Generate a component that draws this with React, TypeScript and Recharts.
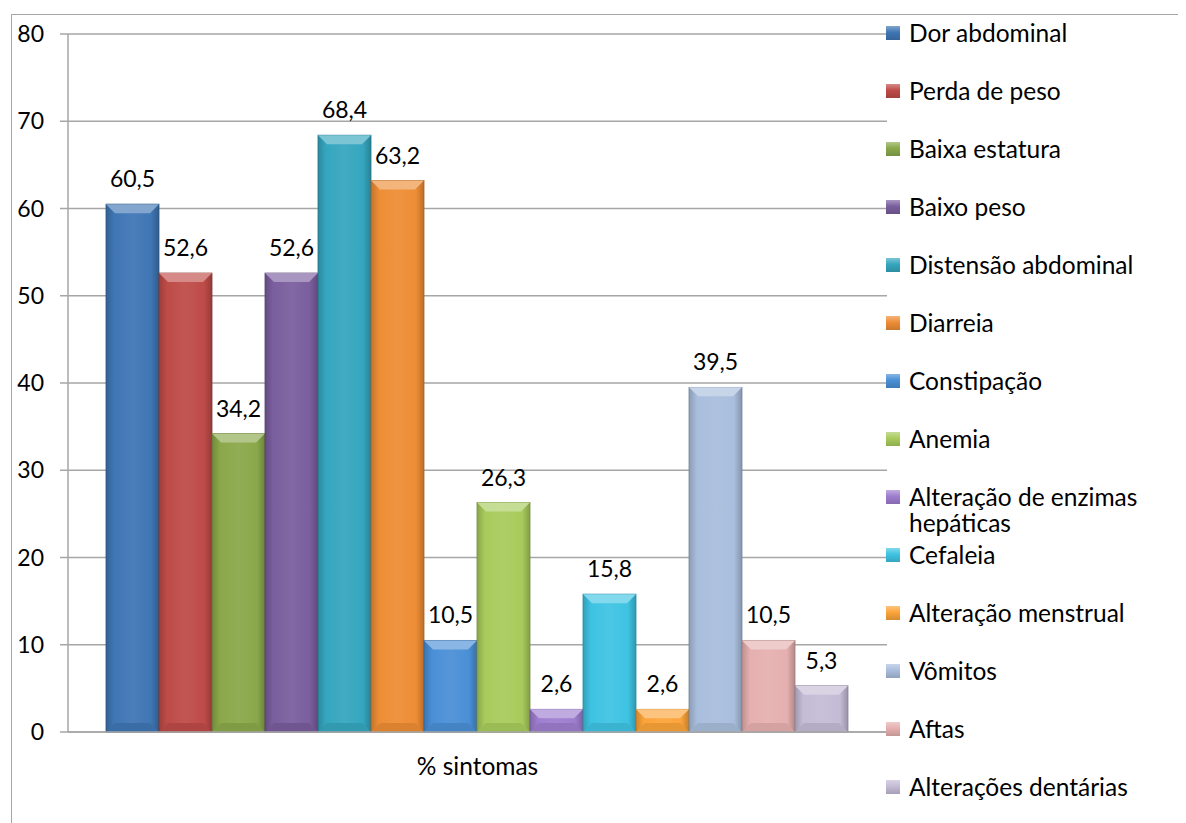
import { BarChart, Bar, XAxis, YAxis, CartesianGrid, LabelList } from "recharts";

const category = "% sintomas";
const symptoms = [
  "Dor abdominal",
  "Perda de peso",
  "Baixa estatura",
  "Baixo peso",
  "Distensão abdominal",
  "Diarreia",
  "Constipação",
  "Anemia",
  "Alteração de enzimas hepáticas",
  "Cefaleia",
  "Alteração menstrual",
  "Vômitos",
  "Aftas",
  "Alterações dentárias",
];
const percents = [60.5, 52.6, 34.2, 52.6, 68.4, 63.2, 10.5, 26.3, 2.6, 15.8, 2.6, 39.5, 10.5, 5.3];
const colors = [
  "#3F76B4", "#BE4B48", "#8AA84A", "#7A5E9E", "#35A6BF", "#EE8D35", "#4A8FD6",
  "#A8CB5C", "#9E7DCF", "#3EC3E2", "#FCA43A", "#A9BEDD", "#E5B0AF", "#C4BBD6",
];
const yTicks = [0, 10, 20, 30, 40, 50, 60, 70, 80];

const FONT = "Lato, 'Open Sans', sans-serif";
const FS = 23;
const FS_TEXT = 24.5;
const GRID = "#a6a6a6";

const row: Record<string, string | number> = { name: category };
symptoms.forEach((s, i) => (row["s" + i] = percents[i]));
const data = [row];

function shade(hex: string, amt: number) {
  const n = parseInt(hex.slice(1), 16);
  const f = (c: number) => {
    const v = amt >= 0 ? c + (255 - c) * amt : c * (1 + amt);
    return Math.max(0, Math.min(255, Math.round(v)));
  };
  const r = f((n >> 16) & 255), g = f((n >> 8) & 255), b = f(n & 255);
  return "#" + ((r << 16) | (g << 8) | b).toString(16).padStart(6, "0");
}

const fmt = (v: any) => String(v).replace(".", ",");

function BevelBar(props: any) {
  const { x, y, width, height, idx } = props;
  if (!height || height <= 0) return null;
  const c = colors[idx];
  const b = Math.min(9, height / 2);
  return (
    <g>
      <rect x={x} y={y} width={width} height={height} fill={`url(#bar${idx})`} stroke={shade(c, -0.3)} strokeWidth={0.8} />
      <polygon
        points={`${x},${y} ${x + width},${y} ${x + width - b},${y + b} ${x + b},${y + b}`}
        fill={shade(c, 0.35)}
      />
      <polygon
        points={`${x},${y + height} ${x + width},${y + height} ${x + width - b},${y + height - b} ${x + b},${y + height - b}`}
        fill={shade(c, -0.08)}
      />
    </g>
  );
}

function SideLegend() {
  return (
    <div style={{ position: "absolute", left: 878, top: 0, width: 300, fontFamily: FONT, fontSize: FS_TEXT, color: "#000" }}>
      {symptoms.map((s, i) => (
        <div
          key={s}
          style={{ position: "absolute", top: 24.5 + i * 58 - 13, left: 0, width: 295, display: "flex", alignItems: "flex-start" }}
        >
          <span
            style={{
              display: "inline-block",
              width: 14,
              height: 14,
              marginTop: 6,
              marginRight: 9,
              flex: "none",
              background: `linear-gradient(180deg, ${shade(colors[i], 0.35)} 0%, ${colors[i]} 45%, ${shade(colors[i], -0.15)} 100%)`,
            }}
          />
          <span style={{ lineHeight: "26px", width: 265 }}>{s}</span>
        </div>
      ))}
    </div>
  );
}

export default function App() {
  return (
    <div style={{ position: "relative", width: 1178, height: 815, background: "#fff", overflow: "hidden" }}>
      <div
        style={{
          position: "absolute",
          left: 3,
          top: 6,
          width: 1200,
          height: 900,
          borderTop: `1.5px solid ${GRID}`,
          borderLeft: `1.5px solid ${GRID}`,
        }}
      />
      <BarChart
        width={1178}
        height={815}
        data={data}
        margin={{ top: 26, right: 299, left: 0, bottom: 11 }}
        barCategoryGap={38}
        barGap={0}
        style={{ position: "absolute", left: 0, top: 0 }}
      >
        <defs>
          {colors.map((c, i) => (
            <linearGradient key={i} id={`bar${i}`} x1="0" y1="0" x2="1" y2="0">
              <stop offset="0%" stopColor={shade(c, -0.18)} />
              <stop offset="15%" stopColor={c} />
              <stop offset="50%" stopColor={shade(c, 0.06)} />
              <stop offset="85%" stopColor={c} />
              <stop offset="100%" stopColor={shade(c, -0.22)} />
            </linearGradient>
          ))}
        </defs>
        <CartesianGrid vertical={false} stroke={GRID} strokeWidth={1.5} />
        <XAxis
          dataKey="name"
          axisLine={{ stroke: GRID, strokeWidth: 1.5 }}
          tickLine={false}
          tickSize={0}
          tickMargin={26}
          height={80}
          tick={{ fontSize: FS_TEXT, fill: "#000", fontFamily: FONT }}
        />
        <YAxis
          domain={[0, 80]}
          ticks={yTicks}
          width={60}
          axisLine={{ stroke: GRID, strokeWidth: 1.5 }}
          tickLine={{ stroke: GRID, strokeWidth: 1.5 }}
          tickSize={8}
          tickMargin={16}
          tick={{ fontSize: FS, fill: "#000", fontFamily: FONT }}
        />
        {symptoms.map((s, i) => (
          <Bar
            key={s}
            dataKey={"s" + i}
            name={s}
            fill={colors[i]}
            isAnimationActive={false}
            shape={(p: any) => <BevelBar {...p} idx={i} />}
          >
            <LabelList
              dataKey={"s" + i}
              position="top"
              offset={17}
              formatter={fmt}
              style={{ fontSize: FS, fill: "#000", fontFamily: FONT }}
            />
          </Bar>
        ))}
      </BarChart>
      <SideLegend />
    </div>
  );
}
